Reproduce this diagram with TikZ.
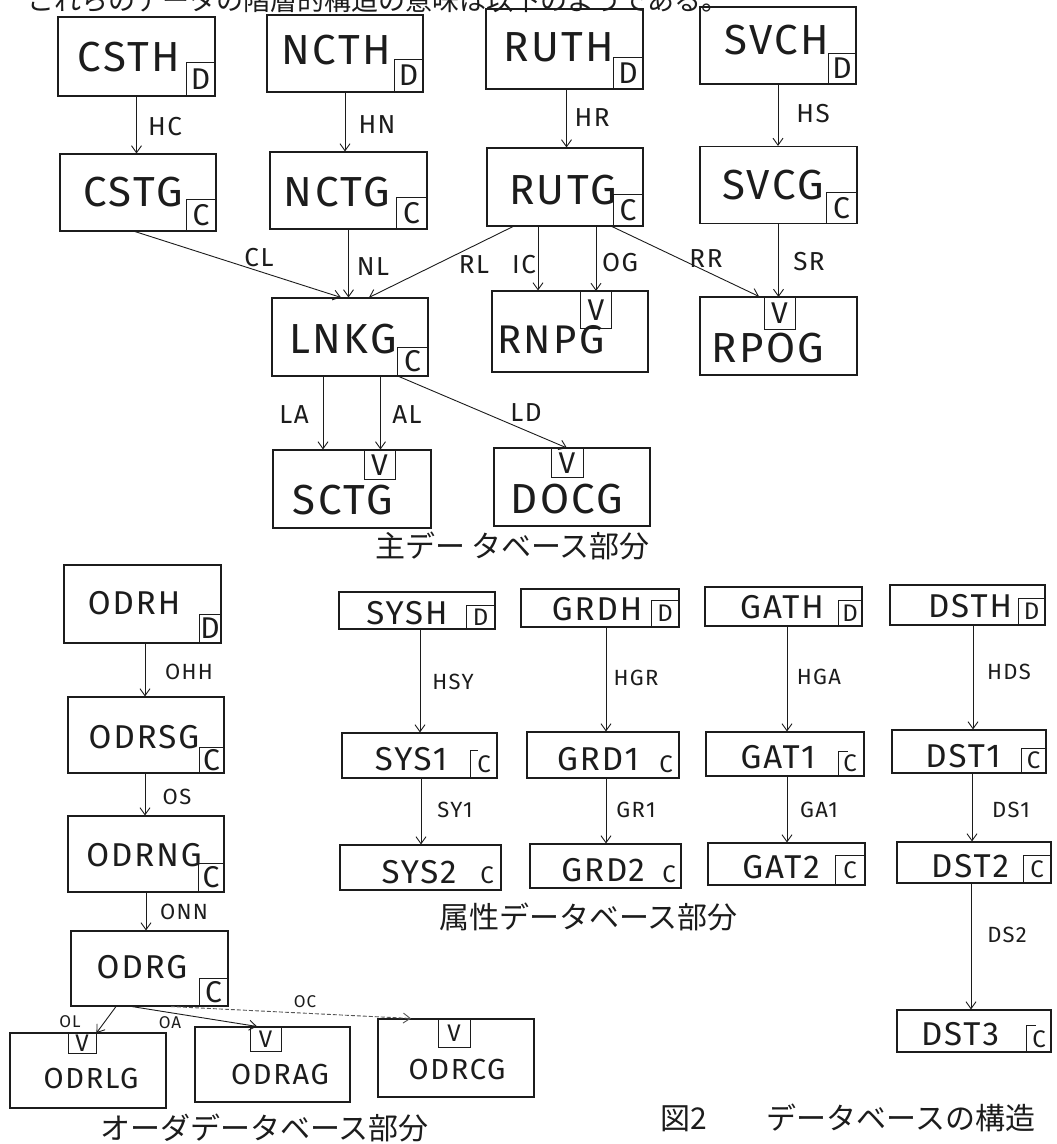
\documentclass[tikz,border=0pt]{standalone}
\usepackage{fontspec}
\setmainfont{Noto Sans CJK JP}
\newfontfamily\hand{Fira Sans}[LetterSpace=6]
\usetikzlibrary{arrows.meta}
\definecolor{ink}{HTML}{1C1C1C}
\begin{document}
\begin{tikzpicture}[x=1pt,y=-1pt,
  box/.style={draw=ink, line width=1.1pt, inner sep=0pt},
  tagbox/.style={draw=ink, line width=1pt, inner sep=0pt, text=ink, font=\hand\fontsize{30}{30}\selectfont},
  stag/.style={draw=ink, line width=0.9pt, inner sep=0pt, text=ink, font=\hand\fontsize{24}{24}\selectfont},
  stagtxt/.style={inner sep=0pt, text=ink, font=\hand\fontsize{24}{24}\selectfont},
  big/.style={inner sep=0pt, text=ink, font=\hand\fontsize{42}{42}\selectfont},
  mid/.style={inner sep=0pt, text=ink, font=\hand\fontsize{33}{33}\selectfont},
  sml/.style={inner sep=0pt, text=ink, font=\hand\fontsize{29}{29}\selectfont},
  lbl/.style={inner sep=0pt, text=ink, font=\hand\fontsize{26}{26}\selectfont},
  slbl/.style={inner sep=0pt, text=ink, font=\hand\fontsize{22}{22}\selectfont},
  tlbl/.style={inner sep=0pt, text=ink, font=\hand\fontsize{17}{17}\selectfont},
  arr/.style={draw=ink, line width=0.9pt, -{Straight Barb[length=7pt,width=10pt]}},
  title/.style={inner sep=0pt, anchor=west, text=ink, font=\fontsize{30}{30}\selectfont}
]
\useasboundingbox (0,0) rectangle (1057,1144);
\fill[white] (0,0) rectangle (1057,1144);

% cut-off heading line
\node[inner sep=0pt, anchor=south west, text=ink, font=\fontsize{27}{27}\selectfont] (head) at (27,13) {これらのデータの階層的構造の意味は以下のようである。};

% ===== main database part =====
\node[box, minimum width=157pt, minimum height=79pt] (csth) at (136.5,56.5) {};
\node[box, minimum width=156pt, minimum height=77pt] (ncth) at (345,53.5) {};
\node[box, minimum width=157pt, minimum height=80pt] (ruth) at (564.5,49) {};
\node[box, minimum width=156pt, minimum height=77pt] (svch) at (778,45.5) {};
\node[box, minimum width=156pt, minimum height=77pt] (cstg) at (138,192.5) {};
\node[box, minimum width=157pt, minimum height=77pt] (nctg) at (348.5,190.5) {};
\node[box, minimum width=156pt, minimum height=78pt] (rutg) at (565,187) {};
\node[box, minimum width=157pt, minimum height=77pt] (svcg) at (778.5,185) {};
\node[box, minimum width=156pt, minimum height=78pt] (lnkg) at (350,337) {};
\node[box, minimum width=156pt, minimum height=81pt] (rnpg) at (570,331.5) {};
\node[box, minimum width=157pt, minimum height=78pt] (rpog) at (778.5,336) {};
\node[box, minimum width=158pt, minimum height=78pt] (sctg) at (352,489) {};
\node[box, minimum width=156pt, minimum height=78pt] (docg) at (572,487) {};

\node[big] (csth-t) at (129,57) {CSTH};
\node[big] (ncth-t) at (336,50) {NCTH};
\node[big] (ruth-t) at (559,47) {RUTH};
\node[big] (svch-t) at (777,40) {SVCH};
\node[big] (cstg-t) at (133,192) {CSTG};
\node[big] (nctg-t) at (337,192) {NCTG};
\node[big] (rutg-t) at (563,190) {RUTG};
\node[big] (svcg-t) at (773,185) {SVCG};
\node[big] (lnkg-t) at (343,339) {LNKG};
\node[big, font=\hand\fontsize{40}{40}\selectfont] (rnpg-t) at (551,340) {RNPG};
\node[big] (rpog-t) at (768,348) {RPOG};
\node[big] (sctg-t) at (343,500) {SCTG};
\node[big] (docg-t) at (567,499) {DOCG};

\node[tagbox, minimum width=29pt, minimum height=34pt, anchor=south east] (csth-d) at (csth.south east) {D};
\node[tagbox, minimum width=29pt, minimum height=33pt, anchor=south east] (ncth-d) at (ncth.south east) {D};
\node[tagbox, minimum width=30pt, minimum height=32pt, anchor=south east] (ruth-d) at (ruth.south east) {D};
\node[tagbox, minimum width=28pt, minimum height=31pt, anchor=south east] (svch-d) at (svch.south east) {D};
\node[tagbox, minimum width=30pt, minimum height=32pt, anchor=south east] (cstg-c) at (cstg.south east) {C};
\node[tagbox, minimum width=31pt, minimum height=32pt, anchor=south east] (nctg-c) at (nctg.south east) {C};
\node[tagbox, minimum width=30pt, minimum height=32pt, anchor=south east] (rutg-c) at (rutg.south east) {C};
\node[tagbox, minimum width=31pt, minimum height=31pt, anchor=south east] (svcg-c) at (svcg.south east) {C};
\node[tagbox, minimum width=31pt, minimum height=29pt, anchor=south east] (lnkg-c) at (lnkg.south east) {C};
\node[tagbox, minimum width=31pt, minimum height=37pt, anchor=north] (rnpg-v) at (596,291) {V};
\node[tagbox, minimum width=31pt, minimum height=32pt, anchor=north] (rpog-v) at (779.5,297) {V};
\node[tagbox, minimum width=31pt, minimum height=29pt, anchor=north] (sctg-v) at (379.5,450) {V};
\node[tagbox, minimum width=32pt, minimum height=29pt, anchor=north] (docg-v) at (567,448) {V};

\draw[arr] (csth.south) -- (csth.south |- cstg.north);
\draw[arr] (ncth.south) -- (ncth.south |- nctg.north);
\draw[arr] ([xshift=2pt]ruth.south) -- ([xshift=2pt]ruth.south |- rutg.north);
\draw[arr] (svch.south) -- (svch.south |- svcg.north);
\draw[arr] ([xshift=-3pt]cstg.south) -- ([xshift=-9pt]lnkg.north);
\draw[arr] (nctg.south) -- (nctg.south |- lnkg.north);
\draw[arr] ([xshift=-52pt]rutg.south) -- ([xshift=19pt]lnkg.north);
\draw[arr] ([xshift=-27pt]rutg.south) -- ([xshift=-27pt]rutg.south |- rnpg.north);
\draw[arr] ([xshift=31pt]rutg.south) -- (rnpg-v.north);
\draw[arr] ([xshift=47pt]rutg.south) -- ([xshift=-19.5pt]rpog.north);
\draw[arr] (svcg.south) -- (svcg.south |- rpog-v.north);
\draw[arr] ([xshift=-27pt]lnkg.south) -- ([xshift=-27pt]lnkg.south |- sctg.north);
\draw[arr] ([xshift=30.5pt]lnkg.south) -- ([xshift=30.5pt]lnkg.south |- sctg.north);
\draw[arr] ([xshift=49pt]lnkg.south) -- (docg-v.north);

\node[lbl] (l-hc) at (165,127) {HC};
\node[lbl] (l-hn) at (377,125) {HN};
\node[lbl] (l-hr) at (592,118) {HR};
\node[lbl] (l-hs) at (813,114) {HS};
\node[lbl] (l-cl) at (259,258) {CL};
\node[lbl] (l-nl) at (373,267) {NL};
\node[lbl] (l-rl) at (474,265) {RL};
\node[lbl] (l-ic) at (524,265) {IC};
\node[lbl] (l-og) at (620,263) {OG};
\node[lbl] (l-rr) at (706,259) {RR};
\node[lbl] (l-sr) at (809,262) {SR};
\node[lbl] (l-la) at (294,415) {LA};
\node[lbl] (l-al) at (407,415) {AL};
\node[lbl] (l-ld) at (526,413) {LD};

\node[title] (t-main) at (375,546) {主デー\hspace{6pt}タベース部分};

% ===== order database part =====
\node[box, minimum width=157pt, minimum height=78pt] (odrh) at (142.5,604) {};
\node[box, minimum width=156pt, minimum height=76pt] (odrsg) at (146,735) {};
\node[box, minimum width=156pt, minimum height=76pt] (odrng) at (146,854) {};
\node[box, minimum width=157pt, minimum height=75pt] (odrg) at (149.5,968.5) {};
\node[box, minimum width=156pt, minimum height=75pt] (odrlg) at (88,1070.5) {};
\node[box, minimum width=155pt, minimum height=75pt] (odrag) at (272.5,1064.5) {};
\node[box, minimum width=156pt, minimum height=78pt] (odrcg) at (456,1058) {};

\node[mid] (odrh-t) at (134,603) {ODRH};
\node[mid] (odrsg-t) at (144,737) {ODRSG};
\node[mid] (odrng-t) at (144,855) {ODRNG};
\node[mid] (odrg-t) at (142,967) {ODRG};
\node[sml] (odrlg-t) at (91,1078) {ODRLG};
\node[sml] (odrag-t) at (280,1074) {ODRAG};
\node[sml] (odrcg-t) at (457,1069) {ODRCG};

\node[tagbox, minimum width=22pt, minimum height=29pt, anchor=south east] (odrh-d) at (odrh.south east) {D};
\node[tagbox, minimum width=25pt, minimum height=26pt, anchor=south east] (odrsg-c) at (odrsg.south east) {C};
\node[tagbox, minimum width=26pt, minimum height=29pt, anchor=south east] (odrng-c) at (odrng.south east) {C};
\node[tagbox, minimum width=29pt, minimum height=28pt, anchor=south east] (odrg-c) at (odrg.south east) {C};
\node[stag, minimum width=28pt, minimum height=20pt, anchor=north] (odrlg-v) at (82,1033) {V};
\node[stag, minimum width=31pt, minimum height=24pt, anchor=north] (odrag-v) at (265.5,1027) {V};
\node[stag, minimum width=32pt, minimum height=28pt, anchor=north] (odrcg-v) at (454,1019) {V};

\draw[arr] ([xshift=2.5pt]odrh.south) -- ([xshift=2.5pt]odrh.south |- odrsg.north);
\draw[arr] ([xshift=-1pt]odrsg.south) -- ([xshift=-1pt]odrsg.south |- odrng.north);
\draw[arr] (odrng.south) -- (odrng.south |- odrg.north);
\draw[arr] ([xshift=-33.5pt]odrg.south) -- (odrlg-v.north east);
\draw[arr] ([xshift=-17.5pt]odrg.south) -- ([xshift=-15.5pt]odrag.north);
\draw[arr, dash pattern=on 4pt off 2pt, draw=ink!75] ([xshift=21.5pt]odrg.south) -- ([xshift=-45pt]odrcg.north);

\node[slbl] (l-ohh) at (189,672) {OHH};
\node[slbl] (l-os) at (177,797) {OS};
\node[slbl] (l-onn) at (184,912) {ONN};
\node[tlbl] (l-ol) at (70,1022) {OL};
\node[tlbl] (l-oa) at (170,1023) {OA};
\node[tlbl] (l-oc) at (305,1002) {OC};

\node[title] (t-order) at (100,1128) {オーダデータベース部分};

% ===== attribute database part =====
\node[box, minimum width=156pt, minimum height=37pt] (sysh) at (417,610.5) {};
\node[box, minimum width=158pt, minimum height=38pt] (grdh) at (600,608) {};
\node[box, minimum width=157pt, minimum height=39pt] (gath) at (783.5,606.5) {};
\node[box, minimum width=155pt, minimum height=40pt] (dsth) at (967.5,605) {};
\node[box, minimum width=155pt, minimum height=45pt] (sys1) at (419.5,755.5) {};
\node[box, minimum width=152pt, minimum height=46pt] (grd1) at (603,755) {};
\node[box, minimum width=158pt, minimum height=44pt] (gat1) at (785,754) {};
\node[box, minimum width=154pt, minimum height=43pt] (dst1) at (969,751.5) {};
\node[box, minimum width=161pt, minimum height=45pt] (sys2) at (420.5,867.5) {};
\node[box, minimum width=151pt, minimum height=44pt] (grd2) at (605.5,866) {};
\node[box, minimum width=157pt, minimum height=42pt] (gat2) at (786.5,864) {};
\node[box, minimum width=154pt, minimum height=41pt] (dst2) at (974,862.5) {};
\node[box, minimum width=154pt, minimum height=42pt] (dst3) at (974,1031) {};

\node[mid] (sysh-t) at (407,613) {SYSH};
\node[mid] (grdh-t) at (597,609) {GRDH};
\node[mid] (gath-t) at (782,607) {GATH};
\node[mid] (dsth-t) at (970,606) {DSTH};
\node[mid] (sys1-t) at (411,759) {SYS1};
\node[mid] (grd1-t) at (598,759) {GRD1};
\node[mid] (gat1-t) at (778,757) {GAT1};
\node[mid] (dst1-t) at (963,756) {DST1};
\node[mid] (sys2-t) at (419,872) {SYS2};
\node[mid] (grd2-t) at (603,870) {GRD2};
\node[mid] (gat2-t) at (781,867) {GAT2};
\node[mid] (dst2-t) at (970,866) {DST2};
\node[mid] (dst3-t) at (960,1034) {DST3};

\node[stag, minimum width=29pt, minimum height=24pt, anchor=south east] (sysh-d) at (sysh.south east) {D};
\node[stag, minimum width=28pt, minimum height=27pt, anchor=south east] (grdh-d) at (grdh.south east) {D};
\node[stag, minimum width=24pt, minimum height=26pt, anchor=south east] (gath-d) at (gath.south east) {D};
\node[stag, minimum width=27pt, minimum height=27pt, anchor=south east] (dsth-d) at (dsth.south east) {D};
\node[stagtxt] (sys1-c) at (484,764) {C};
\draw[draw=ink, line width=0.8pt] (470,777) -- (470,750) -- (478,750);
\node[stagtxt] (grd1-c) at (666,764) {C};
\node[stagtxt] (gat1-c) at (850,763) {C};
\draw[draw=ink, line width=0.8pt] (838,775) -- (838,751) -- (848,751);
\node[stag, minimum width=25pt, minimum height=25pt, anchor=south east] (dst1-c) at (dst1.south east) {C};
\node[stagtxt] (sys2-c) at (487,875) {C};
\node[stagtxt] (grd2-c) at (669,874) {C};
\node[stag, minimum width=30pt, minimum height=30pt, anchor=south east] (gat2-c) at (gat2.south east) {C};
\node[stag, minimum width=28pt, minimum height=28pt, anchor=south east] (dst2-c) at (dst2.south east) {C};
\node[stagtxt] (dst3-c) at (1039,1039) {C};
\draw[draw=ink, line width=0.8pt] (1026,1051) -- (1026,1025) -- (1036,1025);

\draw[arr] ([xshift=3pt]sysh.south) -- ([xshift=3pt]sysh.south |- sys1.north);
\draw[arr] ([xshift=6pt]grdh.south) -- ([xshift=6pt]grdh.south |- grd1.north);
\draw[arr] ([xshift=3.5pt]gath.south) -- ([xshift=3.5pt]gath.south |- gat1.north);
\draw[arr] ([xshift=5.5pt]dsth.south) -- ([xshift=5.5pt]dsth.south |- dst1.north);
\draw[arr] ([xshift=1.5pt]sys1.south) -- ([xshift=1.5pt]sys1.south |- sys2.north);
\draw[arr] ([xshift=3pt]grd1.south) -- ([xshift=3pt]grd1.south |- grd2.north);
\draw[arr] ([xshift=2pt]gat1.south) -- ([xshift=2pt]gat1.south |- gat2.north);
\draw[arr] ([xshift=3pt]dst1.south) -- ([xshift=3pt]dst1.south |- dst2.north);
\draw[arr] ([xshift=-3pt]dst2.south) -- ([xshift=-3pt]dst2.south |- dst3.north);

\node[slbl] (l-hsy) at (453,682) {HSY};
\node[slbl] (l-hgr) at (636,678) {HGR};
\node[slbl] (l-hga) at (819,677) {HGA};
\node[slbl] (l-hds) at (1009,672) {HDS};
\node[slbl] (l-sy1) at (455,810) {SY1};
\node[slbl] (l-gr1) at (636,810) {GR1};
\node[slbl] (l-ga1) at (819,810) {GA1};
\node[slbl] (l-ds1) at (1011,810) {DS1};
\node[slbl] (l-ds2) at (1007,935) {DS2};

\node[title] (t-attr) at (439,917) {属性データベース部分};

\node[title] (t-fig) at (660,1118) {図2\hspace{60pt}データベースの構造};
\end{tikzpicture}
\end{document}
